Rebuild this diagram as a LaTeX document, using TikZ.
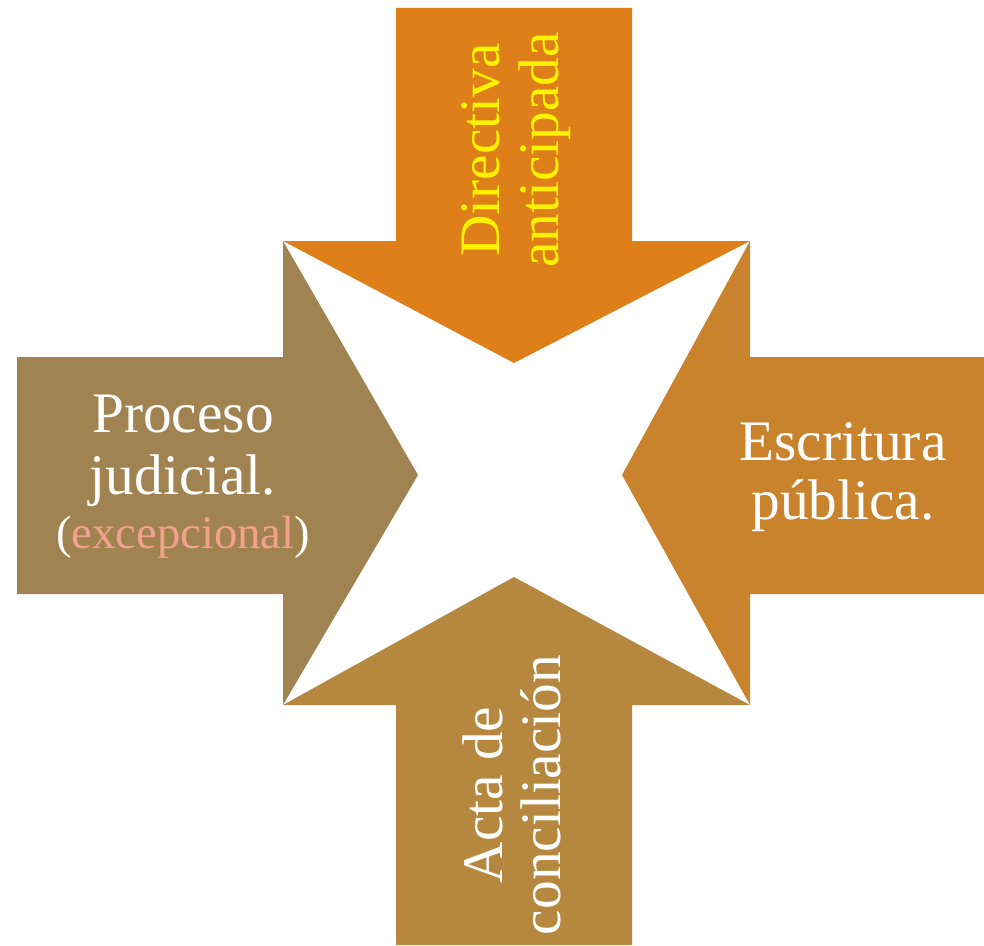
\documentclass[tikz,border=0pt]{standalone}
\usepackage{fontspec}
\setmainfont{Liberation Serif}
\usepackage{xcolor}
\usepackage{tikz}

\definecolor{topOrange}{HTML}{DF7F1A}
\definecolor{leftBrown}{HTML}{A08350}
\definecolor{rightOchre}{HTML}{C9832D}
\definecolor{bottomGold}{HTML}{B5873F}
\definecolor{salmon}{HTML}{F2A28C}

\begin{document}
\begin{tikzpicture}[x=0.75pt,y=-0.75pt,
		label/.style={align=center,text=white,inner sep=0pt,
			font=\fontsize{43}{44}\selectfont}
	]
		\useasboundingbox (0,0) rectangle (984,945);

		% the four arrows, all pointing to the middle
		\fill[topOrange]
			(396,8) -- (632,8) -- (632,241) -- (750,241) -- (514,363)
			-- (283,241) -- (396,241) -- cycle;
		\fill[bottomGold]
			(396,945) -- (632,945) -- (632,705) -- (750,705) -- (514,577)
			-- (283,705) -- (396,705) -- cycle;
		\fill[leftBrown]
			(17,357) -- (283,357) -- (283,241) -- (418,475) -- (283,705)
			-- (283,594) -- (17,594) -- cycle;
		\fill[rightOchre]
			(984,357) -- (750,357) -- (750,241) -- (622,475) -- (750,705)
			-- (750,594) -- (984,594) -- cycle;

		\draw
			node[label,text=yellow,rotate=90] (directiva) at (516,150) {Directiva\\anticipada}
			node[label,rotate=90]             (acta)      at (512,795) {Acta de\\conciliación}
			node[label]                       (proceso)   at (183,477)
				{Proceso\\[2pt]judicial.\\[-3pt]{\fontsize{35}{38}\selectfont(\textcolor{salmon}{excepcional})}}
			node[label]                       (escritura) at (843,477) {Escritura\\pública.}
		;
	\end{tikzpicture}
\end{document}
